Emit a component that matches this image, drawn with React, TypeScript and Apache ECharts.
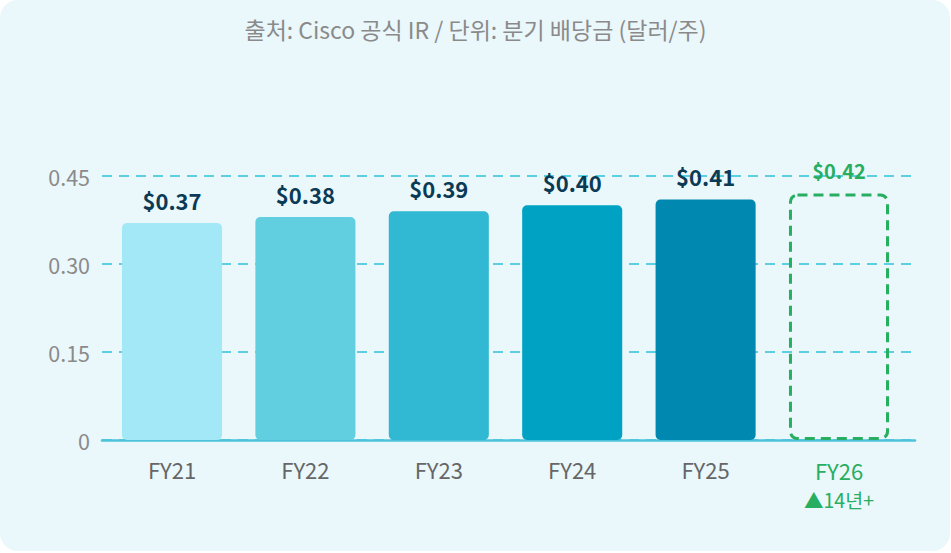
import React, { useEffect, useRef } from "react";
import * as echarts from "echarts";

const categories = ["FY21", "FY22", "FY23", "FY24", "FY25", "FY26"];
const dividends = [0.37, 0.38, 0.39, 0.40, 0.41, 0.42];
const barColors = ["#A3E8F6", "#62CFE1", "#31B8D2", "#00A2C3", "#0088B0", "transparent"];
const yTicks = [0, 0.15, 0.3, 0.45];
const titleText = "출처: Cisco 공식 IR / 단위: 분기 배당금 (달러/주)";
const fy26Note = "▲14년+";

const FONT = "'Noto Sans CJK KR', 'Noto Sans', sans-serif";
const GREEN = "#27AE60";

export default function App() {
  const ref = useRef<HTMLDivElement>(null);

  useEffect(() => {
    document.body.style.margin = "0";
    if (!ref.current) return;
    const chart = echarts.init(ref.current, undefined, { renderer: "svg" });
    const yMax = yTicks[yTicks.length - 1];
    const lastIdx = categories.length - 1;

    chart.setOption({
      animation: false,
      backgroundColor: "transparent",
      textStyle: { fontFamily: FONT },
      title: {
        text: titleText,
        left: "center",
        top: 12,
        textStyle: { fontFamily: FONT, fontSize: 23, fontWeight: "normal", color: "#8A8A8A" },
      },
      grid: [
        { left: 102, right: 36, top: 176, bottom: 113 },
        { left: 105.3, right: 45.3, top: 176, bottom: 113 },
      ],
      xAxis: [
        {
          type: "category",
          gridIndex: 0,
          data: categories,
          axisLine: { show: true, lineStyle: { color: "#4CC4DC", width: 2.5 } },
          axisTick: { show: false },
          axisLabel: { show: false },
        },
        {
          type: "category",
          gridIndex: 1,
          data: categories,
          axisLine: { show: false },
          axisTick: { show: false },
          axisLabel: {
            interval: 0,
            hideOverlap: false,
            margin: 18,
            fontFamily: FONT,
            fontSize: 22,
            color: "#666666",
            formatter: (v: string, i: number) =>
              i === lastIdx ? `{g|${v}}\n{s|${fy26Note}}` : v,
            rich: {
              g: { fontFamily: FONT, fontSize: 22, color: GREEN, lineHeight: 24 },
              s: { fontFamily: FONT, fontSize: 19.5, color: GREEN, lineHeight: 34 },
            },
          },
        },
      ],
      yAxis: [
        {
          type: "value",
          gridIndex: 0,
          min: 0,
          max: yMax,
          interval: 0.15,
          axisLine: { show: false },
          axisTick: { show: false },
          axisLabel: {
            margin: 12,
            fontFamily: FONT,
            fontSize: 21.5,
            color: "#8A8A8A",
            formatter: (v: number) => (v === 0 ? "0" : v.toFixed(2)),
          },
          splitLine: {
            show: true,
            lineStyle: { color: "#5CCFE2", width: 2, type: [10, 7] },
          },
        },
        {
          type: "value",
          gridIndex: 1,
          min: 0,
          max: yMax,
          interval: 0.15,
          show: false,
          splitLine: { show: false },
        },
      ],
      series: [
        {
          type: "bar",
          xAxisIndex: 1,
          yAxisIndex: 1,
          barWidth: "75%",
          data: dividends.map((v, i) =>
            i === lastIdx
              ? {
                  value: v,
                  itemStyle: {
                    color: "transparent",
                    borderColor: GREEN,
                    borderWidth: 3,
                    borderType: [10, 6],
                    borderRadius: 7,
                  },
                  label: {
                    color: GREEN,
                    fontSize: 20,
                    fontWeight: 600,
                    distance: 13,
                  },
                }
              : {
                  value: v,
                  itemStyle: { color: barColors[i], borderRadius: 5 },
                }
          ),
          label: {
            show: true,
            position: "top",
            distance: 12,
            fontFamily: FONT,
            fontSize: 22,
            fontWeight: "bold",
            color: "#0B3A55",
            formatter: (p: any) => `$${Number(p.value).toFixed(2)}`,
          },
        },
      ],
    });
    return () => chart.dispose();
  }, []);

  return (
    <div style={{ position: "relative", width: 951, height: 553, background: "#FFFFFF" }}>
      <div
        style={{
          position: "absolute",
          left: 0,
          top: 0,
          width: 950,
          height: 551,
          borderRadius: 18,
          background: "#EAF7FB",
        }}
      />
      <div ref={ref} style={{ position: "absolute", left: 0, top: 0, width: 951, height: 553 }} />
    </div>
  );
}
